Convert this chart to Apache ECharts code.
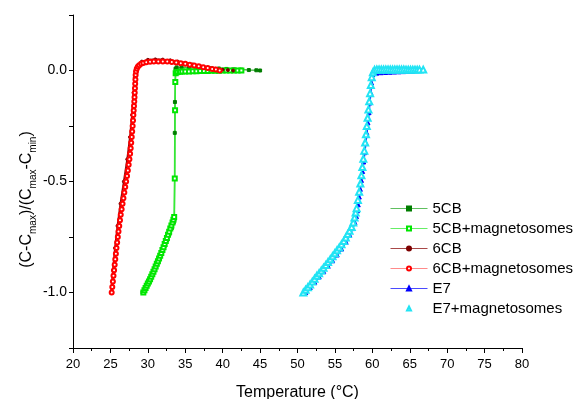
<!DOCTYPE html>
<html>
<head>
<meta charset="utf-8">
<script src="https://cdn.jsdelivr.net/npm/echarts@6/dist/echarts.min.js"></script>
<style>
  html, body { margin: 0; padding: 0; background: #fff; }
  #chart { width: 585px; height: 399px; }
</style>
</head>
<body>
<div id="chart"></div>
<script>
// 各样品的归一化电容 - 温度曲线 (T / °C, (C-Cmax)/(Cmax-Cmin))
const seriesNames = ['5CB', '5CB+magnetosomes', '6CB', '6CB+magnetosomes', 'E7', 'E7+magnetosomes']

const cb5 = [
  [29.30, -1.000], [29.60, -0.982], [29.90, -0.963], [30.20, -0.944], [30.50, -0.924],
  [30.80, -0.903], [31.10, -0.882], [31.40, -0.860], [31.70, -0.837], [32.00, -0.813],
  [32.30, -0.789], [32.60, -0.763], [32.90, -0.737], [33.20, -0.710], [33.45, -0.685],
  [33.55, -0.673], [33.60, -0.281], [33.62, -0.142], [33.70, 0.008], [33.85, 0.014],
  [34.50, 0.015], [35.50, 0.014], [36.50, 0.013], [37.50, 0.012], [38.50, 0.010],
  [39.50, 0.009], [40.50, 0.007], [41.50, 0.005], [42.50, 0.004], [43.50, 0.002],
  [44.50, 0.001], [45.00, 0.000]
]

const cb5Mag = [
  [29.40, -1.000], [29.55, -0.990], [29.70, -0.980], [29.85, -0.970], [30.00, -0.960],
  [30.15, -0.950], [30.30, -0.940], [30.45, -0.929], [30.60, -0.918], [30.75, -0.907],
  [30.90, -0.895], [31.05, -0.883], [31.20, -0.871], [31.35, -0.859], [31.50, -0.847],
  [31.65, -0.835], [31.80, -0.822], [31.95, -0.809], [32.10, -0.796], [32.25, -0.782],
  [32.40, -0.768], [32.55, -0.754], [32.70, -0.740], [32.85, -0.726], [33.00, -0.712],
  [33.15, -0.698], [33.30, -0.685], [33.42, -0.672], [33.52, -0.660], [33.60, -0.486],
  [33.64, -0.179], [33.67, -0.052], [33.72, -0.012], [33.85, -0.008], [34.00, -0.007],
  [34.30, -0.006], [34.60, -0.005], [35.00, -0.004], [35.50, -0.004], [36.00, -0.003],
  [36.50, -0.003], [37.00, -0.002], [37.50, -0.002], [38.00, -0.002], [38.50, -0.001],
  [39.00, -0.001], [39.50, -0.001], [40.00, 0.000], [40.50, 0.000], [41.00, 0.000],
  [41.50, 0.000], [42.00, 0.000], [42.50, 0.000]
]

const cb6 = [
  [25.10, -1.000], [25.35, -0.900], [25.62, -0.800], [25.95, -0.700], [26.35, -0.600],
  [26.80, -0.500], [27.25, -0.400], [27.62, -0.300], [27.90, -0.200], [28.10, -0.100],
  [28.25, -0.030], [28.40, 0.005], [28.70, 0.025], [29.20, 0.040], [30.00, 0.048],
  [31.00, 0.050], [32.00, 0.049], [33.00, 0.046], [34.00, 0.040], [35.00, 0.034],
  [36.00, 0.027], [37.00, 0.020], [38.00, 0.013], [39.00, 0.008], [40.00, 0.004],
  [40.70, 0.002], [41.40, 0.000]
]

const cb6Mag = [
  [25.17, -1.000], [25.25, -0.975], [25.33, -0.950], [25.41, -0.925], [25.49, -0.900],
  [25.57, -0.875], [25.65, -0.850], [25.73, -0.825], [25.81, -0.800], [25.90, -0.775],
  [25.99, -0.750], [26.08, -0.725], [26.18, -0.700], [26.28, -0.675], [26.38, -0.650],
  [26.50, -0.625], [26.62, -0.600], [26.74, -0.575], [26.86, -0.550], [26.98, -0.525],
  [27.10, -0.500], [27.22, -0.475], [27.33, -0.450], [27.44, -0.425], [27.54, -0.400],
  [27.63, -0.375], [27.71, -0.350], [27.78, -0.325], [27.85, -0.300], [27.91, -0.275],
  [27.97, -0.250], [28.02, -0.225], [28.07, -0.200], [28.11, -0.180], [28.15, -0.160],
  [28.19, -0.140], [28.22, -0.120], [28.25, -0.100], [28.28, -0.080], [28.31, -0.060],
  [28.34, -0.040], [28.37, -0.020], [28.42, -0.005], [28.52, 0.008], [28.66, 0.017],
  [28.85, 0.024], [29.10, 0.030], [29.40, 0.034], [29.80, 0.037], [30.30, 0.039],
  [30.80, 0.040], [31.40, 0.041], [32.00, 0.041], [32.60, 0.040], [33.20, 0.038],
  [33.80, 0.036], [34.40, 0.033], [35.00, 0.030], [35.60, 0.026], [36.20, 0.023],
  [36.80, 0.019], [37.40, 0.015], [38.00, 0.011], [38.60, 0.007], [39.10, 0.004],
  [39.60, 0.000]
]

const e7 = [
  [51.10, -1.000], [51.70, -0.978], [52.30, -0.954], [52.90, -0.930], [53.50, -0.906],
  [54.10, -0.882], [54.70, -0.857], [55.30, -0.831], [55.90, -0.804], [56.50, -0.774],
  [57.00, -0.742], [57.40, -0.712], [57.68, -0.685], [57.88, -0.658], [58.02, -0.632],
  [58.12, -0.605], [58.26, -0.570], [58.40, -0.535], [58.55, -0.495], [58.70, -0.455],
  [58.85, -0.412], [59.00, -0.370], [59.14, -0.326], [59.28, -0.282], [59.42, -0.236],
  [59.56, -0.190], [59.68, -0.146], [59.80, -0.100], [59.90, -0.056], [60.02, -0.020],
  [60.20, -0.014], [60.60, -0.012], [61.20, -0.010], [61.80, -0.009], [62.40, -0.008],
  [63.00, -0.007], [63.60, -0.006], [64.20, -0.005], [64.80, -0.004], [65.40, -0.003],
  [66.00, -0.001], [66.60, 0.000]
]

const e7Mag = [
  [50.78, -1.000], [51.08, -0.988], [51.38, -0.976], [51.68, -0.964], [51.98, -0.951],
  [52.28, -0.938], [52.58, -0.925], [52.88, -0.913], [53.18, -0.901], [53.48, -0.889],
  [53.78, -0.876], [54.08, -0.863], [54.38, -0.850], [54.68, -0.837], [54.98, -0.823],
  [55.28, -0.810], [55.58, -0.797], [55.88, -0.783], [56.18, -0.768], [56.45, -0.752],
  [56.70, -0.737], [56.95, -0.722], [57.24, -0.705], [57.45, -0.685], [57.62, -0.662],
  [57.77, -0.640], [57.90, -0.620], [58.07, -0.583], [58.24, -0.546], [58.40, -0.509],
  [58.54, -0.472], [58.67, -0.435], [58.80, -0.398], [58.93, -0.361], [59.04, -0.324],
  [59.15, -0.287], [59.26, -0.250], [59.37, -0.213], [59.48, -0.176], [59.59, -0.139],
  [59.70, -0.102], [59.80, -0.065], [59.92, -0.030], [60.08, -0.008], [60.30, 0.003],
  [60.60, 0.005], [60.90, 0.005], [61.20, 0.005], [61.50, 0.005], [61.80, 0.005],
  [62.10, 0.005], [62.40, 0.005], [62.70, 0.005], [63.00, 0.005], [63.30, 0.005],
  [63.60, 0.005], [63.90, 0.005], [64.20, 0.005], [64.50, 0.004], [64.80, 0.004],
  [65.10, 0.004], [65.40, 0.004], [65.70, 0.004], [66.00, 0.004], [66.30, 0.004],
  [66.80, 0.004]
]

const xTicks = { min: 20, max: 80, step: 5 }
const yTicks = { min: -1.25, max: 0.25, step: 0.25 }

const FONT = 'Liberation Sans'

// 图例中的细线颜色
const legendLine = {
  '5CB': '#5fbf5f',
  '5CB+magnetosomes': '#66ee66',
  '6CB': '#a84848',
  '6CB+magnetosomes': '#ff8a8a',
  'E7': '#4a4aff',
  'E7+magnetosomes': '#ffffff'
}

const mkSeries = (name, data, symbol, size, markColor, lineColor, lineWidth) => ({
  name,
  type: 'line',
  data,
  symbol,
  symbolSize: size,
  showSymbol: true,
  showAllSymbol: true,
  smooth: false,
  color: markColor,
  itemStyle: { color: markColor, borderColor: markColor, borderWidth: 1 },
  lineStyle: { color: lineColor, width: lineWidth, opacity: lineWidth ? 1 : 0 },
  emphasis: { disabled: true }
})

const chart = echarts.init(document.getElementById('chart'))
chart.setOption({
  animation: false,
  backgroundColor: '#fff',
  textStyle: { fontFamily: FONT },
  grid: { left: 73, right: 63, top: 15, bottom: 51, outerBoundsMode: 'none', containLabel: false },
  legend: {
    orient: 'vertical',
    left: 390,
    top: 201,
    padding: 0,
    itemWidth: 37,
    itemHeight: 5,
    itemGap: 5,
    data: seriesNames.map((n) => ({
      name: n,
      lineStyle: { width: n === 'E7+magnetosomes' ? 0 : 1, color: legendLine[n], opacity: n === 'E7+magnetosomes' ? 0 : 1 }
    })),
    textStyle: { fontFamily: FONT, fontSize: 15, color: '#000' }
  },
  xAxis: {
    type: 'value',
    min: xTicks.min,
    max: xTicks.max,
    interval: xTicks.step,
    name: 'Temperature (°C)',
    nameLocation: 'middle',
    nameGap: 37,
    nameMoveOverlap: false,
    nameTextStyle: { fontFamily: FONT, fontSize: 16, color: '#000' },
    axisLine: { show: true, onZero: false, lineStyle: { color: '#000', width: 1 } },
    axisTick: { show: true, inside: false, length: 5, lineStyle: { color: '#000' } },
    minorTick: { show: true, splitNumber: 2, length: 3, lineStyle: { color: '#000' } },
    axisLabel: { fontFamily: FONT, fontSize: 13, color: '#000', margin: 10 },
    splitLine: { show: false }
  },
  yAxis: {
    type: 'value',
    min: yTicks.min,
    max: yTicks.max,
    interval: yTicks.step,
    name: '{a|(C-C}{s|max}{a|)/(C}{s|max}{a|-C}{s|min}{a|)}',
    nameLocation: 'middle',
    nameGap: 35,
    nameMoveOverlap: false,
    nameTextStyle: {
      padding: [0, 36, 0, 0],
      rich: {
        a: { fontFamily: FONT, fontSize: 16, color: '#000', lineHeight: 18 },
        s: { fontFamily: FONT, fontSize: 10, color: '#000', lineHeight: 22, verticalAlign: 'bottom' }
      }
    },
    axisLine: { show: true, onZero: false, lineStyle: { color: '#000', width: 1 } },
    axisTick: { show: true, inside: false, length: 4, lineStyle: { color: '#000' } },
    axisLabel: {
      fontFamily: FONT,
      fontSize: 14,
      color: '#000',
      margin: 6,
      formatter: (v) => (Math.abs(v * 2 - Math.round(v * 2)) < 1e-9 && v >= -1 && v <= 0 ? v.toFixed(1) : '')
    },
    splitLine: { show: false }
  },
  series: [
    mkSeries('5CB', cb5, 'rect', 3, '#007d00', '#4cb84c', 1.5),
    mkSeries('5CB+magnetosomes', cb5Mag, 'emptyRect', 4, '#00e600', '#33ee33', 1.5),
    mkSeries('6CB', cb6, 'circle', 3, '#7d0000', '#8c1010', 2),
    mkSeries('6CB+magnetosomes', cb6Mag, 'emptyCircle', 4, '#ff0000', '#ff2a2a', 2.5),
    mkSeries('E7', e7, 'triangle', 4, '#0000ff', '#2a2aff', 1.5),
    mkSeries('E7+magnetosomes', e7Mag, 'emptyTriangle', 6, '#22e4f4', '#22e4f4', 0)
  ]
})
</script>
</body>
</html>
